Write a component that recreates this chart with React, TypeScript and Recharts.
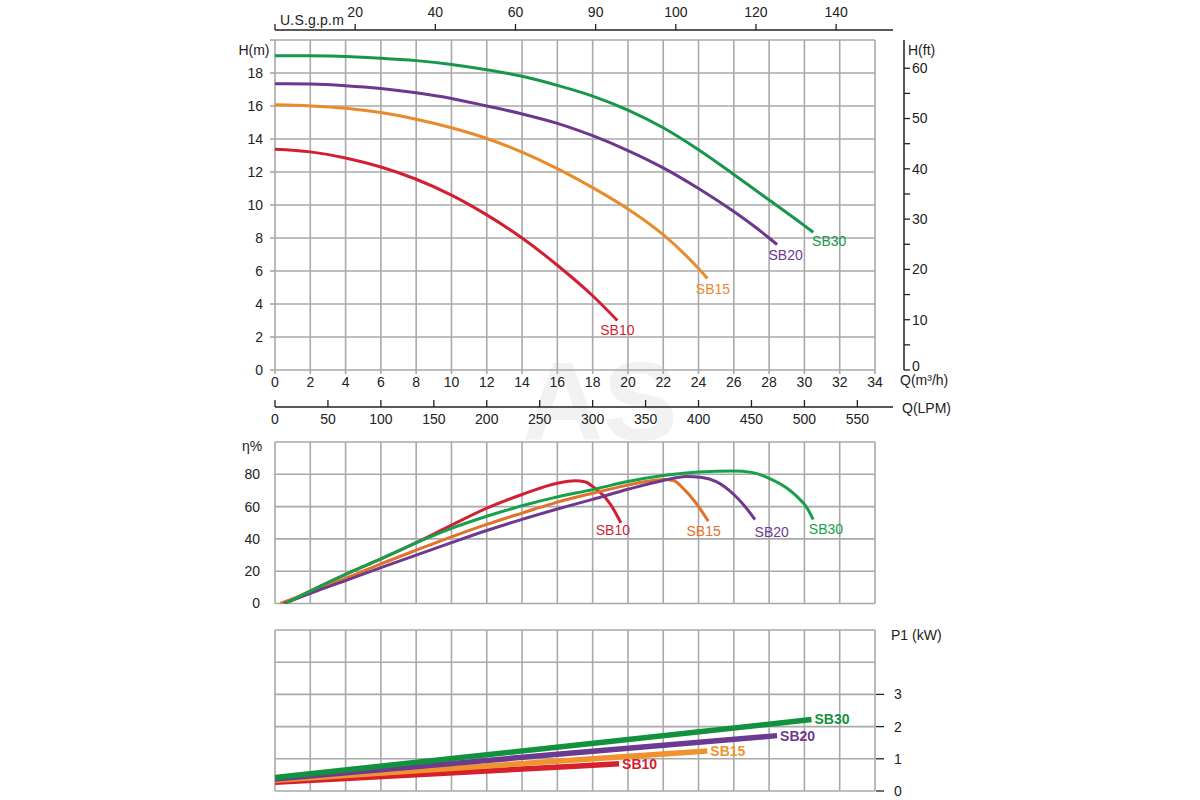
import React from 'react';
import { LineChart, Line, XAxis, YAxis, CartesianGrid, LabelList } from 'recharts';

const FONT = '"Liberation Sans", Arial, Helvetica, sans-serif';

// ---- tick labels / categories ----
const qTicks = [0, 2, 4, 6, 8, 10, 12, 14, 16, 18, 20, 22, 24, 26, 28, 30, 32, 34];
const hTicks = [0, 2, 4, 6, 8, 10, 12, 14, 16, 18, 20];
const ftTicks = [0, 5, 10, 15, 20, 25, 30, 35, 40, 45, 50, 55, 60];
const gpmTicks = [0, 20, 40, 60, 80, 100, 120, 140];
const gpmTickLabels = ['U.S.g.p.m', '20', '40', '60', '90', '100', '120', '140'];
const lpmTicks = [0, 50, 100, 150, 200, 250, 300, 350, 400, 450, 500, 550];
const effTicks = [0, 20, 40, 60, 80, 100];
const powerTicks = [0, 1, 2, 3, 4, 5];
const powerLabelledMax = 3;
const models = ['SB10', 'SB15', 'SB20', 'SB30'];

// ---- head curves: [Q m3/h, H m] ----
const sb10Head = [[0, 13.38], [2, 13.22], [4, 12.85], [6, 12.3], [8, 11.56], [10, 10.6], [12, 9.4], [14, 8.0], [16, 6.35], [18, 4.5], [19.4, 3.0]];
const sb15Head = [[0, 16.07], [2, 16.0], [4, 15.86], [6, 15.6], [8, 15.2], [10, 14.68], [12, 14.03], [14, 13.2], [16, 12.2], [18, 11.05], [20, 9.76], [22, 8.2], [24, 6.15], [24.5, 5.55]];
const sb20Head = [[0, 17.35], [2, 17.33], [4, 17.23], [6, 17.06], [8, 16.8], [10, 16.46], [12, 16.0], [14, 15.52], [16, 14.95], [18, 14.2], [20, 13.3], [22, 12.25], [24, 11.0], [26, 9.6], [28, 8.0], [28.45, 7.6]];
const sb30Head = [[0, 19.05], [2, 19.04], [4, 19.0], [6, 18.9], [8, 18.75], [10, 18.52], [12, 18.2], [14, 17.8], [16, 17.25], [18, 16.6], [20, 15.75], [22, 14.68], [24, 13.35], [26, 11.85], [28, 10.3], [30, 8.75], [30.5, 8.35]];

// ---- efficiency curves: [Q m3/h, eta %] ----
const sb10Eff = [[0.5, 0], [2, 7.7], [4, 18], [6, 27.6], [8, 37.7], [10, 48.5], [12, 59], [14, 67.5], [16, 74.5], [17, 76], [17.6, 75.2], [18, 72.5], [18.6, 67], [19, 61.5], [19.6, 50]];
const sb15Eff = [[0.3, 0], [2, 7.1], [4, 15.5], [6, 24.5], [8, 33], [10, 41.3], [12, 49], [14, 56], [16, 62.8], [18, 68.3], [20, 73.3], [21, 75.5], [22, 76.8], [22.6, 76], [23.2, 70.5], [23.8, 63], [24.55, 51]];
const sb20Eff = [[0.5, 0], [2, 6.3], [4, 14.2], [6, 22.2], [8, 30], [10, 37.7], [12, 45.2], [14, 52.1], [16, 58.5], [18, 64.5], [20, 70.7], [22, 76.2], [23.3, 78.6], [24.2, 78], [25, 75.5], [26, 67.5], [26.6, 60.5], [27.2, 52]];
const sb30Eff = [[0.6, 0], [2, 7.7], [4, 18], [6, 27.6], [8, 37.5], [10, 46.5], [12, 54], [14, 60.5], [16, 66], [18, 70.5], [20, 75.5], [22, 79.2], [24, 81.5], [26, 82], [27, 81.2], [28, 77.5], [29, 71.5], [29.6, 66], [30.1, 60], [30.5, 52]];

// ---- power curves: [Q m3/h, P1 kW] ----
const sb10Pow = [[0, 0.27], [17, 0.77], [19.5, 0.85]];
const sb15Pow = [[0, 0.33], [17, 0.96], [24.5, 1.24]];
const sb20Pow = [[0, 0.37], [17, 1.19], [28.45, 1.72]];
const sb30Pow = [[0, 0.42], [17, 1.42], [30.4, 2.22]];

// ---- unit conversions for the auxiliary axes ----
const M_TO_FT = 1 / 0.3048;
const M3H_TO_GPM = 4.40287;
const M3H_TO_LPM = 1000 / 60;
const Q_MAX = 34;
const Q_AXIS_EXT = 35.02; // aux flow axes run slightly past the grid

const pts = (arr: number[][]) => arr.map(([q, v]) => ({ q, v }));

const colors = {
  head: ['#d31f32', '#e98a2b', '#6d3790', '#17974a'],
  eff: ['#d21f35', '#e0722b', '#6f3990', '#16a04b'],
  pow: ['#d6202c', '#f0932f', '#6c3a90', '#12923f'],
};

const headData = [sb10Head, sb15Head, sb20Head, sb30Head];
const effData = [sb10Eff, sb15Eff, sb20Eff, sb30Eff];
const powData = [sb10Pow, sb15Pow, sb20Pow, sb30Pow];

// label placement relative to curve end (dx, dy)
const headLabelOff = [[0, 9.5], [5.6, 11], [8.6, 10.5], [16, 9]];
const effLabelOff = [[-8, 7], [-4.6, 10], [16.7, 12.7], [12.7, 9.7]];

const GRID = '#a9a9a9';
const TXT = '#222';

const endLabel = (n: number, lastV: number, text: string, color: string, dx: number, dy: number, bold: boolean, anchor: string) =>
  (props: any) => {
    const idx = props.index;
    const isLast = idx !== undefined && idx !== null ? idx === n - 1 : props.value === lastV;
    if (!isLast) return null;
    const x = props.x ?? props.viewBox?.x;
    const y = props.y ?? props.viewBox?.y;
    if (x == null || y == null) return null;
    return (
      <text x={x + dx} y={y + dy} dy="0.35em" textAnchor={anchor} fill={color} fontSize={14}
        fontWeight={bold ? 'bold' : 'normal'} fontFamily={FONT}>{text}</text>
    );
  };

const GpmTick = (props: any) => {
  const { x, y, index } = props;
  const label = gpmTickLabels[index];
  return (
    <g>
      <line x1={x} x2={x} y1={y} y2={y - 6} stroke={TXT} strokeWidth={1.3} />
      {index === 0 ? (
        <text x={x + 5} y={y - 5} textAnchor="start" fontSize={14} fill={TXT} fontFamily={FONT} letterSpacing={0.2}>{label}</text>
      ) : (
        <text x={x} y={y - 13} textAnchor="middle" fontSize={14} fill={TXT} fontFamily={FONT}>{label}</text>
      )}
    </g>
  );
};

const LpmTick = (props: any) => {
  const { x, y, payload } = props;
  return (
    <g>
      <line x1={x} x2={x} y1={y} y2={y - 7} stroke={TXT} strokeWidth={1.3} />
      <text x={x} y={y + 17} textAnchor="middle" fontSize={14} fill={TXT} fontFamily={FONT}>{payload.value}</text>
    </g>
  );
};

const FtTick = (props: any) => {
  const { x, y, payload } = props;
  const v = payload.value;
  return (
    <g>
      <line x1={x} x2={x + 6} y1={y} y2={y} stroke={TXT} strokeWidth={1.3} />
      {v % 10 === 0 ? (
        <text x={x + 8} y={v === 0 ? y - 4 : y} dy="0.35em" textAnchor="start" fontSize={14} fill={TXT} fontFamily={FONT}>{v}</text>
      ) : null}
    </g>
  );
};

const PowTick = (props: any) => {
  const { x, y, payload } = props;
  const v = payload.value;
  if (v > powerLabelledMax) return <g />;
  return (
    <g>
      <line x1={x + 1} x2={x + 9} y1={y} y2={y} stroke={TXT} strokeWidth={1.3} />
      <text x={x + 23} y={y} dy="0.35em" textAnchor="middle" fontSize={14} fill={TXT} fontFamily={FONT}>{v}</text>
    </g>
  );
};

const abs = (top: number): React.CSSProperties => ({ position: 'absolute', left: 0, top });

export default function App() {
  const extRight = 1200 - 275 - (Q_AXIS_EXT / Q_MAX) * 600;
  return (
    <div style={{ position: 'absolute', left: 0, top: 0, width: 1200, height: 800, background: '#fff', fontFamily: FONT, overflow: 'hidden' }}>
      {/* watermark */}
      <svg width={1200} height={800} style={{ position: 'absolute', left: 0, top: 0 }}>
        <text x={600} y={440} textAnchor="middle" fontSize={112} fontWeight="bold" fill="#f2f2f2" fontFamily={FONT}>AS</text>
      </svg>

      {/* U.S.g.p.m axis */}
      <div style={abs(0)}>
        <LineChart width={1200} height={34} margin={{ top: 0, right: extRight, left: 275, bottom: 0 }}>
          <XAxis xAxisId="gpm" orientation="top" type="number" dataKey="q" height={30}
            domain={[0, Q_AXIS_EXT * M3H_TO_GPM]} ticks={gpmTicks} allowDataOverflow
            axisLine={{ stroke: TXT, strokeWidth: 1.5 }} tickLine={false} tickSize={0} tickMargin={0}
            tick={<GpmTick />} interval={0} />
          <YAxis hide domain={[0, 1]} />
        </LineChart>
      </div>

      {/* Head chart */}
      <div style={abs(0)}>
        <LineChart width={1200} height={400} margin={{ top: 40, right: 325, left: 235, bottom: 0 }}>
          <CartesianGrid stroke={GRID} strokeWidth={1.6} />
          <XAxis type="number" dataKey="q" domain={[0, Q_MAX]} ticks={qTicks} interval={0} height={30}
            axisLine={false} tickLine={{ stroke: GRID, strokeWidth: 1.6 }} tickSize={4} tickMargin={3}
            tick={{ fill: TXT, fontSize: 14, fontFamily: FONT }} allowDataOverflow />
          <YAxis type="number" domain={[0, 20]} ticks={hTicks} interval={0} width={40}
            axisLine={false} tickLine={{ stroke: GRID, strokeWidth: 1.6 }} tickSize={5} tickMargin={7}
            tickFormatter={(v: number) => (v === 20 ? '' : String(v))}
            tick={{ fill: TXT, fontSize: 14, fontFamily: FONT }} allowDataOverflow />
          {headData.map((d, i) => {
            const data = pts(d);
            const [dx, dy] = headLabelOff[i];
            return (
              <Line key={models[i]} data={data} dataKey="v" type="monotone" stroke={colors.head[i]} strokeWidth={3}
                dot={false} activeDot={false} isAnimationActive={false}>
                <LabelList dataKey="v" content={endLabel(data.length, data[data.length - 1].v, models[i], colors.head[i], dx, dy, false, 'middle')} />
              </Line>
            );
          })}
        </LineChart>
      </div>

      {/* H(ft) axis */}
      <div style={abs(0)}>
        <LineChart width={1200} height={400} margin={{ top: 40, right: 256, left: 903, bottom: 30 }}>
          <XAxis hide type="number" dataKey="q" domain={[0, 1]} />
          <YAxis orientation="right" type="number" domain={[0, 20 * M_TO_FT]} ticks={ftTicks} interval={0} width={40}
            axisLine={{ stroke: TXT, strokeWidth: 1.5 }} tickLine={false} tickSize={0} tickMargin={0}
            tick={<FtTick />} allowDataOverflow />
        </LineChart>
      </div>

      {/* Q(LPM) axis */}
      <div style={abs(380)}>
        <LineChart width={1200} height={60} margin={{ top: 20, right: extRight, left: 275, bottom: 3 }}>
          <XAxis type="number" dataKey="q" height={30} domain={[0, Q_AXIS_EXT * M3H_TO_LPM]} ticks={lpmTicks} interval={0}
            axisLine={{ stroke: TXT, strokeWidth: 1.5 }} tickLine={false} tickSize={0} tickMargin={0}
            tick={<LpmTick />} allowDataOverflow />
          <YAxis hide domain={[0, 1]} />
        </LineChart>
      </div>

      {/* Efficiency chart */}
      <div style={abs(420)}>
        <LineChart width={1200} height={200} margin={{ top: 22, right: 325, left: 235, bottom: 16.5 }}>
          <CartesianGrid stroke={GRID} strokeWidth={1.6} />
          <XAxis hide type="number" dataKey="q" domain={[0, Q_MAX]} ticks={qTicks} interval={0} allowDataOverflow />
          <YAxis type="number" domain={[0, 100]} ticks={effTicks} interval={0} width={40}
            axisLine={false} tickLine={false} tickSize={0} tickMargin={15}
            tickFormatter={(v: number) => (v === 100 ? '' : String(v))}
            tick={{ fill: TXT, fontSize: 14, fontFamily: FONT }} allowDataOverflow />
          {effData.map((d, i) => {
            const data = pts(d);
            const [dx, dy] = effLabelOff[i];
            return (
              <Line key={models[i]} data={data} dataKey="v" type="monotone" stroke={colors.eff[i]} strokeWidth={3}
                dot={false} activeDot={false} isAnimationActive={false}>
                <LabelList dataKey="v" content={endLabel(data.length, data[data.length - 1].v, models[i], colors.eff[i], dx, dy, false, 'middle')} />
              </Line>
            );
          })}
        </LineChart>
      </div>

      {/* Power chart */}
      <div style={abs(610)}>
        <LineChart width={1200} height={190} margin={{ top: 20, right: 285, left: 275, bottom: 9 }}>
          <CartesianGrid stroke={GRID} strokeWidth={1.6} />
          <XAxis hide type="number" dataKey="q" domain={[0, Q_MAX]} ticks={qTicks} interval={0} allowDataOverflow />
          <YAxis orientation="right" type="number" domain={[0, 5]} ticks={powerTicks} interval={0} width={40}
            axisLine={false} tickLine={false} tickSize={0} tickMargin={0} tick={<PowTick />} allowDataOverflow />
          {powData.map((d, i) => {
            const data = pts(d);
            return (
              <Line key={models[i]} data={data} dataKey="v" type="linear" stroke={colors.pow[i]} strokeWidth={5.5}
                dot={false} activeDot={false} isAnimationActive={false}>
                <LabelList dataKey="v" content={endLabel(data.length, data[data.length - 1].v, models[i], colors.pow[i], 3, 0, true, 'start')} />
              </Line>
            );
          })}
        </LineChart>
      </div>

      {/* axis titles */}
      <svg width={1200} height={800} style={{ position: 'absolute', left: 0, top: 0, pointerEvents: 'none' }}>
        <g fontFamily={FONT} fontSize={14} fill={TXT}>
          <text x={254} y={50} dy="0.35em" textAnchor="middle">H(m)</text>
          <text x={908} y={50} dy="0.35em" textAnchor="start">H(ft)</text>
          <text x={900} y={380} dy="0.35em" textAnchor="start">Q(m³/h)</text>
          <text x={902} y={408} dy="0.35em" textAnchor="start">Q(LPM)</text>
          <text x={242} y={446} dy="0.35em" textAnchor="start">η%</text>
          <text x={891} y={635} dy="0.35em" textAnchor="start">P1 (kW)</text>
        </g>
      </svg>
    </div>
  );
}
